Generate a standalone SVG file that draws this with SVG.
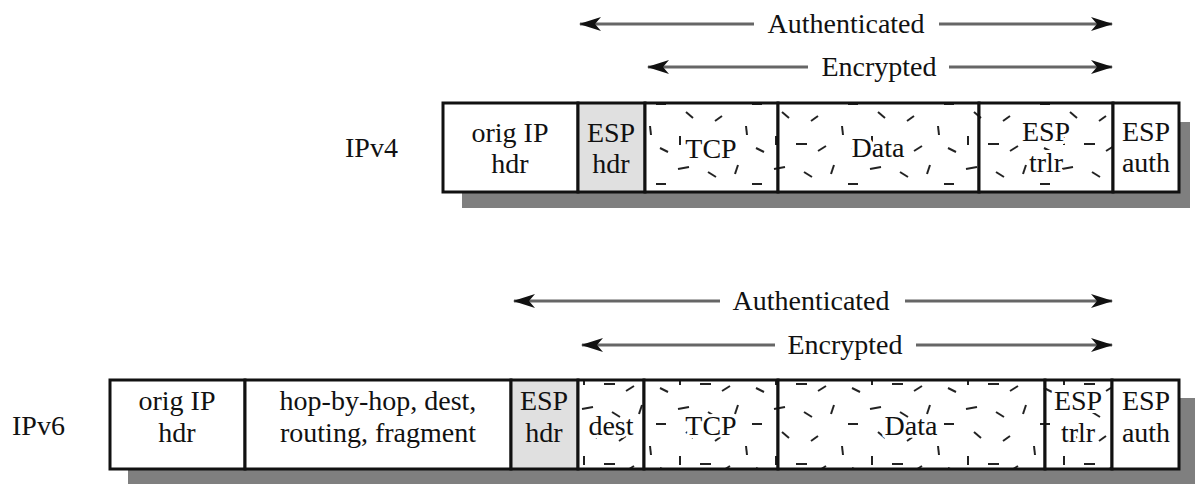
<svg xmlns="http://www.w3.org/2000/svg" width="1198" height="484" viewBox="0 0 1198 484">
  <style>
    text { font-family: "Liberation Serif", "Times New Roman", serif; font-size: 28px; fill: #111; text-anchor: middle; }
    .lbl { text-anchor: start; }
    .halo { stroke: #fff; stroke-width: 6; paint-order: stroke; stroke-linejoin: round; }
    .cell { fill: #ffffff; stroke: #111; stroke-width: 3; }
    .esp { fill: #e0e0e0; stroke: #111; stroke-width: 3; }
    .enc { fill: url(#dash); stroke: #111; stroke-width: 3; }
    .shadow { fill: #7f7f7f; }
    .arrow { stroke: #666; stroke-width: 3; fill: none; marker-end: url(#ah); }
  </style>
  <defs>
    <marker id="ah" viewBox="0 0 22 14" refX="21" refY="7" markerWidth="22" markerHeight="14" markerUnits="userSpaceOnUse" orient="auto">
      <path d="M0,0 L22,7 L0,14 L6,7 Z" fill="#111"/>
    </marker>
    <pattern id="dash" patternUnits="userSpaceOnUse" x="0" y="0" width="96" height="80">
      <rect width="96" height="80" fill="#fff"/>
      <g stroke="#222" stroke-width="2" fill="none">
        <path d="M6,9 l11,-2"/>
        <path d="M36,12 l8,5"/>
        <path d="M66,5 l-3,9"/>
        <path d="M80,24 l10,0"/>
        <path d="M14,32 l7,6"/>
        <path d="M50,36 l-7,5"/>
        <path d="M74,46 l1,9"/>
        <path d="M8,56 l0,9"/>
        <path d="M28,64 l11,0"/>
        <path d="M58,66 l-8,5"/>
        <path d="M84,68 l8,4"/>
      </g>
    </pattern>
  </defs>

  <g id="connectors">
    <line class="arrow" x1="754" y1="24" x2="580" y2="24"/>
    <line class="arrow" x1="939" y1="24" x2="1112" y2="24"/>
    <line class="arrow" x1="808" y1="67" x2="648" y2="67"/>
    <line class="arrow" x1="949" y1="67" x2="1112" y2="67"/>
    <line class="arrow" x1="720" y1="301" x2="514" y2="301"/>
    <line class="arrow" x1="905" y1="301" x2="1112" y2="301"/>
    <line class="arrow" x1="775" y1="345" x2="582" y2="345"/>
    <line class="arrow" x1="916" y1="345" x2="1112" y2="345"/>
  </g>

  <g id="labels-ipv4">
    <text x="846" y="33">Authenticated</text>
    <text x="879" y="76">Encrypted</text>
  </g>
  <g id="labels-ipv6">
    <text x="811" y="310">Authenticated</text>
    <text x="845" y="354">Encrypted</text>
  </g>

  <g id="ipv4">
    <text class="lbl" x="345" y="157">IPv4</text>
    <rect class="shadow" x="462" y="122" width="728" height="86"/>
    <g id="v4-origip"><rect class="cell" x="443" y="103" width="135" height="89"/><text x="510" y="142">orig IP</text><text x="510" y="173">hdr</text></g>
    <g id="v4-esphdr"><rect class="esp" x="578" y="103" width="67" height="89"/><text x="611" y="142">ESP</text><text x="611" y="173">hdr</text></g>
    <g id="v4-tcp"><rect class="enc" x="645" y="103" width="133" height="89"/><text class="halo" x="711" y="158">TCP</text></g>
    <g id="v4-data"><rect class="enc" x="778" y="103" width="201" height="89"/><text class="halo" x="878" y="157">Data</text></g>
    <g id="v4-esptrlr"><rect class="enc" x="979" y="103" width="134" height="89"/><text class="halo" x="1046" y="141">ESP</text><text class="halo" x="1046" y="172">trlr</text></g>
    <g id="v4-espauth"><rect class="cell" x="1113" y="103" width="66" height="89"/><text x="1146" y="141">ESP</text><text x="1146" y="172">auth</text></g>
  </g>

  <g id="ipv6">
    <text class="lbl" x="12" y="435">IPv6</text>
    <rect class="shadow" x="128" y="398" width="1067" height="86"/>
    <g id="v6-origip"><rect class="cell" x="110" y="380" width="135" height="89"/><text x="177" y="410">orig IP</text><text x="177" y="442">hdr</text></g>
    <g id="v6-ext"><rect class="cell" x="245" y="380" width="266" height="89"/><text x="378" y="410">hop-by-hop, dest,</text><text x="378" y="442">routing, fragment</text></g>
    <g id="v6-esphdr"><rect class="esp" x="511" y="380" width="67" height="89"/><text x="544" y="410">ESP</text><text x="544" y="442">hdr</text></g>
    <g id="v6-dest"><rect class="enc" x="578" y="380" width="66" height="89"/><text class="halo" x="611" y="435">dest</text></g>
    <g id="v6-tcp"><rect class="enc" x="644" y="380" width="134" height="89"/><text class="halo" x="711" y="435">TCP</text></g>
    <g id="v6-data"><rect class="enc" x="778" y="380" width="267" height="89"/><text class="halo" x="911" y="435">Data</text></g>
    <g id="v6-esptrlr"><rect class="enc" x="1045" y="380" width="67" height="89"/><text class="halo" x="1078" y="410">ESP</text><text class="halo" x="1078" y="442">trlr</text></g>
    <g id="v6-espauth"><rect class="cell" x="1112" y="380" width="67" height="89"/><text x="1146" y="410">ESP</text><text x="1146" y="442">auth</text></g>
  </g>
</svg>
